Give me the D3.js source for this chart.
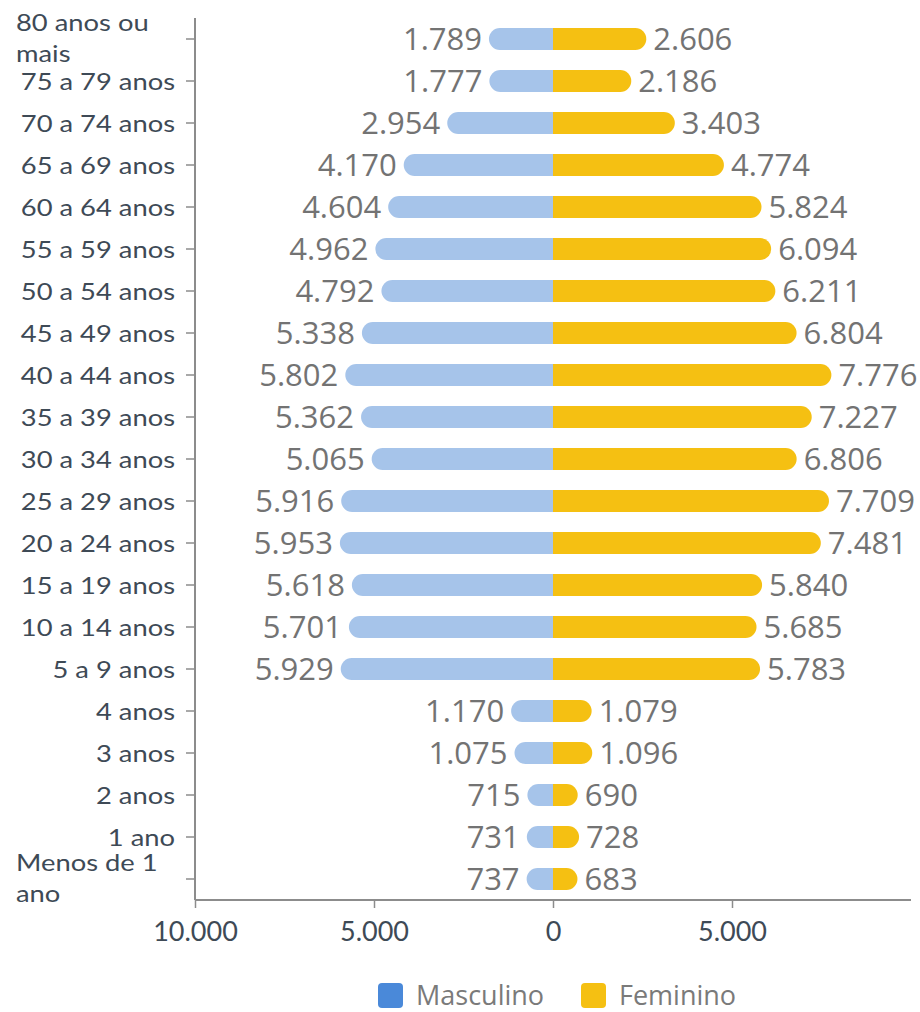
<!DOCTYPE html>
<html>
<head>
<meta charset="utf-8">
<script src="https://cdn.jsdelivr.net/npm/d3@7"></script>
<style>
  body { margin: 0; background: #fff; }
  .ageLabel { font-family: Lato, sans-serif; font-size: 24px; fill: #3e4a56; }
  .valueLabel { font-family: "Open Sans", sans-serif; font-size: 31px; fill: #737373; }
  .xTick { font-family: Lato, sans-serif; font-size: 27px; fill: #3e4a56; }
  .legendText { font-family: "Open Sans", sans-serif; font-size: 27px; fill: #7a7a7a; }
</style>
</head>
<body>
<div id="chart"></div>
<script>
// age groups, top to bottom
var ages = ["80 anos ou mais", "75 a 79 anos", "70 a 74 anos", "65 a 69 anos", "60 a 64 anos",
  "55 a 59 anos", "50 a 54 anos", "45 a 49 anos", "40 a 44 anos", "35 a 39 anos",
  "30 a 34 anos", "25 a 29 anos", "20 a 24 anos", "15 a 19 anos", "10 a 14 anos",
  "5 a 9 anos", "4 anos", "3 anos", "2 anos", "1 ano", "Menos de 1 ano"];

// wrapped labels (as drawn in the picture)
var ageLines = {
  "80 anos ou mais": ["80 anos ou", "mais"],
  "Menos de 1 ano": ["Menos de 1", "ano"]
};

var masculino = [1789, 1777, 2954, 4170, 4604, 4962, 4792, 5338, 5802, 5362,
  5065, 5916, 5953, 5618, 5701, 5929, 1170, 1075, 715, 731, 737];
var feminino = [2606, 2186, 3403, 4774, 5824, 6094, 6211, 6804, 7776, 7227,
  6806, 7709, 7481, 5840, 5685, 5783, 1079, 1096, 690, 728, 683];

var xTicks = [-10000, -5000, 0, 5000];
var seriesNames = ["Masculino", "Feminino"];

var colors = { bar: ["#a6c4ea", "#f5c012"], legend: ["#4a89d9", "#f5c012"] };

var width = 920, height = 1012;
var margin = { top: 18, left: 195, right: 9, bottom: 112 };
var labelStretch = 1.14; // age labels are drawn a bit wide

var fmt = d3.formatLocale({ decimal: ",", thousands: ".", grouping: [3], currency: ["R$", ""] }).format(",d");

var svg = d3.select("#chart").append("svg")
  .attr("width", width)
  .attr("height", height);

var x = d3.scaleLinear()
  .domain([-10000, 10000])
  .range([margin.left, width - margin.right]);

var y = d3.scaleBand()
  .domain(ages)
  .range([margin.top, height - margin.bottom]);

var barH = 22, r = 11;

var rows = ages.map(function(a, i) {
  return { age: a, m: masculino[i], f: feminino[i] };
});

// bar with only the outer end rounded
function barPath(v, side) {
  var top = -barH / 2, bot = barH / 2;
  var x0 = x(0), xe = x(side * v);
  if (side < 0) {
    return "M" + x0 + "," + top + "H" + (xe + r) +
      "A" + r + "," + r + " 0 0 0 " + (xe + r) + "," + bot + "H" + x0 + "Z";
  }
  return "M" + x0 + "," + top + "H" + (xe - r) +
    "A" + r + "," + r + " 0 0 1 " + (xe - r) + "," + bot + "H" + x0 + "Z";
}

var row = svg.selectAll("g.row")
  .data(rows)
  .enter()
  .append("g")
  .attr("class", "row")
  .attr("transform", function(d) { return "translate(0," + (y(d.age) + y.bandwidth() / 2) + ")"; });

row.append("path")
  .attr("d", function(d) { return barPath(d.m, -1); })
  .attr("fill", colors.bar[0]);

row.append("path")
  .attr("d", function(d) { return barPath(d.f, 1); })
  .attr("fill", colors.bar[1]);

row.append("text")
  .attr("class", "valueLabel")
  .attr("x", function(d) { return x(-d.m) - 7; })
  .attr("y", 11)
  .attr("text-anchor", "end")
  .text(function(d) { return fmt(d.m); });

row.append("text")
  .attr("class", "valueLabel")
  .attr("x", function(d) { return x(d.f) + 7; })
  .attr("y", 11)
  .text(function(d) { return fmt(d.f); });

// y axis
var yAxis = svg.append("g")
  .attr("transform", "translate(" + margin.left + ",0)")
  .call(d3.axisLeft(y).tickSize(9).tickFormat(""));
yAxis.selectAll("line").attr("stroke", "#8c8c8c").attr("stroke-width", 1.5);
yAxis.select(".domain").attr("stroke", "#8c8c8c").attr("stroke-width", 2)
  .attr("d", "M0," + margin.top + "V" + (height - margin.bottom));

// age labels
row.each(function(d) {
  var g = d3.select(this);
  var lines = ageLines[d.age];
  if (lines) {
    var t = g.append("text")
      .attr("class", "ageLabel")
      .attr("transform", "translate(16,0) scale(" + labelStretch + ",1)");
    lines.forEach(function(l, i) {
      t.append("tspan").attr("x", 0).attr("y", -8 + i * 31).text(l);
    });
  } else {
    g.append("text")
      .attr("class", "ageLabel")
      .attr("transform", "translate(175,9) scale(" + labelStretch + ",1)")
      .attr("text-anchor", "end")
      .text(d.age);
  }
});

// x axis
var xAxis = svg.append("g")
  .attr("transform", "translate(0," + (height - margin.bottom) + ")")
  .call(d3.axisBottom(x).tickValues(xTicks).tickSize(8).tickPadding(14)
    .tickFormat(function(v) { return fmt(Math.abs(v)); }));
xAxis.select(".domain").attr("stroke", "#8c8c8c").attr("stroke-width", 2)
  .attr("d", "M" + margin.left + ",0H" + (width - margin.right));
xAxis.selectAll("line").attr("stroke", "#8c8c8c").attr("stroke-width", 1.5);
xAxis.selectAll("text").attr("class", "xTick").attr("fill", null);

// legend (kept just inside the bottom edge)
var legendX = [378, 581];
var legend = svg.selectAll("g.legend")
  .data(seriesNames)
  .enter()
  .append("g")
  .attr("class", "legend")
  .attr("transform", function(d, i) { return "translate(" + legendX[i] + ",983)"; });

legend.append("rect")
  .attr("width", 25).attr("height", 25)
  .attr("rx", 4)
  .attr("fill", function(d, i) { return colors.legend[i]; });

legend.append("text")
  .attr("class", "legendText")
  .attr("x", 38)
  .attr("y", 22)
  .text(function(d) { return d; });
</script>
</body>
</html>
